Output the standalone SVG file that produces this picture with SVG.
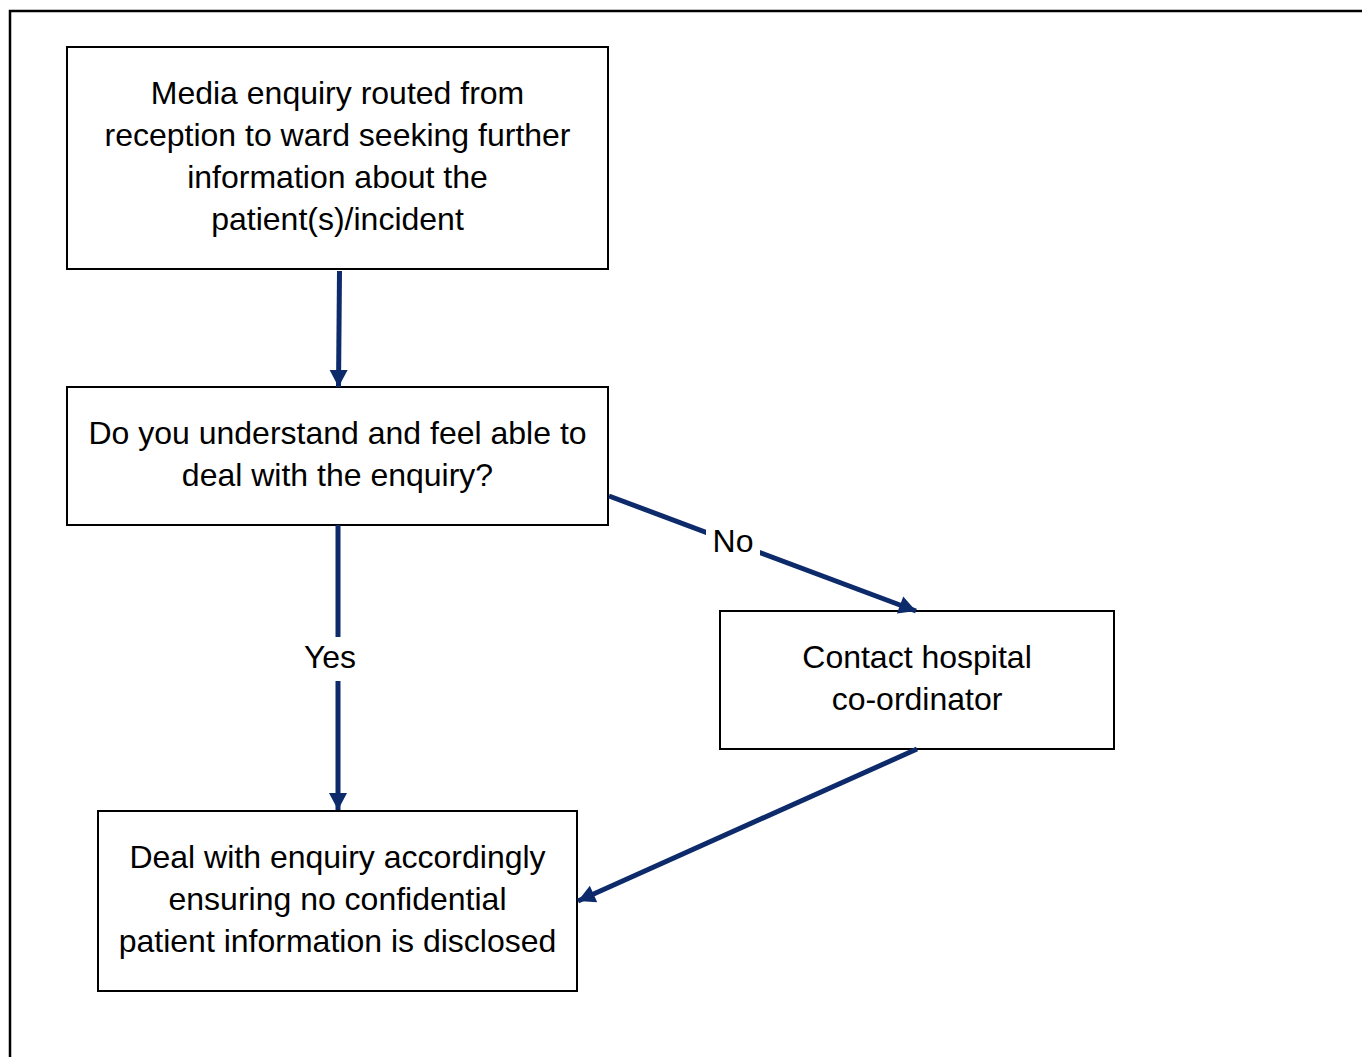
<svg xmlns="http://www.w3.org/2000/svg" width="1363" height="1057" viewBox="0 0 1363 1057">
<style>
.box{fill:#fff;stroke:#000;stroke-width:2}
.t{font-family:"Liberation Sans",Arial,sans-serif;font-size:32px;fill:#000;text-anchor:middle}
.c{stroke:#0d2a6b;stroke-width:5;fill:none}
.lbl{fill:#fff}
</style>
<defs>
<marker id="ah" markerUnits="userSpaceOnUse" markerWidth="20" markerHeight="20" viewBox="0 0 20 20" refX="18" refY="10" orient="auto">
<path d="M1,1 L18,10 L1,19 Z" fill="#0d2a6b"/>
</marker>
</defs>
<rect x="0" y="0" width="1363" height="1057" fill="#fff"/>
<path d="M10,1057 L10,11 L1362,11" fill="none" stroke="#000" stroke-width="2.5"/>
<g id="n1">
<rect class="box" x="67" y="47" width="541" height="222"/>
<text class="t" x="337.5" y="104">Media enquiry routed from</text>
<text class="t" x="337.5" y="146">reception to ward seeking further</text>
<text class="t" x="337.5" y="188">information about the</text>
<text class="t" x="337.5" y="230">patient(s)/incident</text>
</g>
<g id="n2">
<rect class="box" x="67" y="387" width="541" height="138"/>
<text class="t" x="337.5" y="444">Do you understand and feel able to</text>
<text class="t" x="337.5" y="486">deal with the enquiry?</text>
</g>
<g id="n3">
<rect class="box" x="720" y="611" width="394" height="138"/>
<text class="t" x="917" y="668">Contact hospital</text>
<text class="t" x="917" y="710">co-ordinator</text>
</g>
<g id="n4">
<rect class="box" x="98" y="811" width="479" height="180"/>
<text class="t" x="337.5" y="868">Deal with enquiry accordingly</text>
<text class="t" x="337.5" y="910">ensuring no confidential</text>
<text class="t" x="337.5" y="952">patient information is disclosed</text>
</g>
<g id="connectors">
<line class="c" x1="339.5" y1="271" x2="338.5" y2="387" marker-end="url(#ah)"/>
<line class="c" x1="338" y1="525" x2="338" y2="810" marker-end="url(#ah)"/>
<rect class="lbl" x="298" y="637" width="64" height="44"/>
<text class="t" x="330" y="668">Yes</text>
<line class="c" x1="609" y1="496" x2="916" y2="611" marker-end="url(#ah)"/>
<rect class="lbl" x="706" y="526" width="54" height="37"/>
<text class="t" x="733" y="552">No</text>
<line class="c" x1="917" y1="749" x2="578" y2="901" marker-end="url(#ah)"/>
</g>
</svg>
